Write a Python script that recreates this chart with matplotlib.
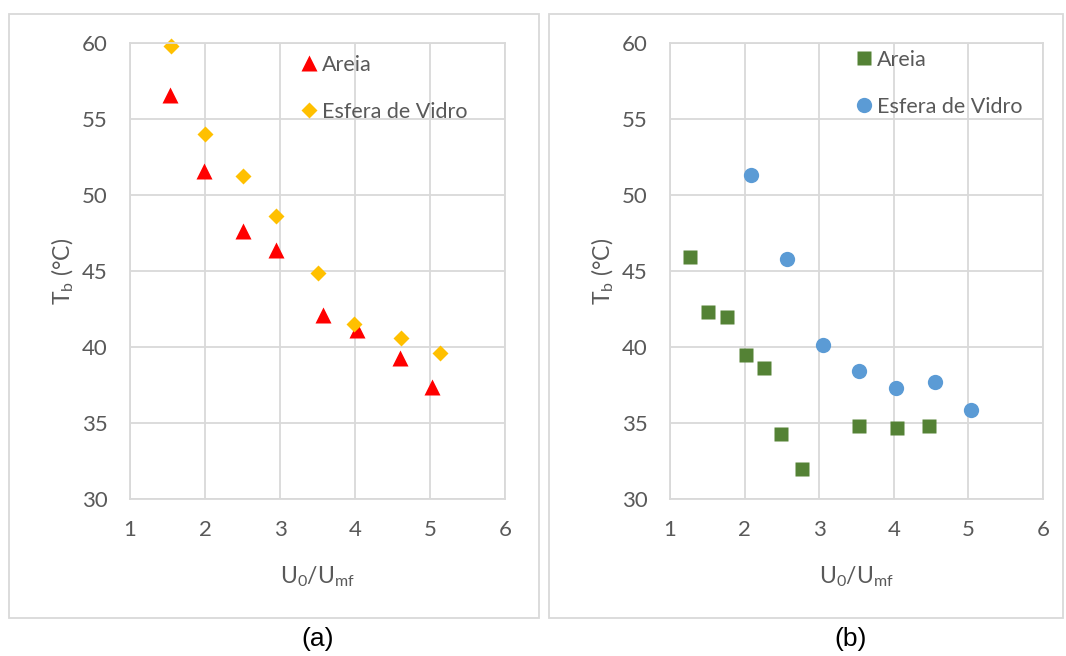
import matplotlib
matplotlib.use("Agg")
import matplotlib.pyplot as plt
from matplotlib.patches import Rectangle

# (a) sand vs glass spheres, first run
a_areia_x = [1.53, 1.99, 2.51, 2.95, 3.57, 4.03, 4.60, 5.03]
a_areia_y = [56.6, 51.6, 47.6, 46.4, 42.1, 41.1, 39.3, 37.4]
a_vidro_x = [1.55, 2.00, 2.51, 2.95, 3.51, 3.99, 4.61, 5.13]
a_vidro_y = [59.8, 54.0, 51.25, 48.6, 44.9, 41.5, 40.6, 39.6]

# (b) sand vs glass spheres, second run
b_areia_x = [1.27, 1.51, 1.76, 2.02, 2.26, 2.49, 2.77, 3.53, 4.04, 4.47]
b_areia_y = [45.9, 42.3, 42.0, 39.5, 38.6, 34.3, 32.0, 34.8, 34.7, 34.8]
b_vidro_x = [2.09, 2.57, 3.05, 3.53, 4.03, 4.55, 5.03]
b_vidro_y = [51.3, 45.8, 40.1, 38.4, 37.3, 37.7, 35.85]

x_ticks = [1, 2, 3, 4, 5, 6]
y_ticks = [30, 35, 40, 45, 50, 55, 60]

TEXT = "#595959"
GRID = "#D9D9D9"

plt.rcParams["font.family"] = ["Lato", "DejaVu Sans"]
plt.rcParams["mathtext.default"] = "regular"

W, H = 1066, 656
fig = plt.figure(figsize=(W / 100, H / 100), dpi=100)


def px_axes(left, right, top, bottom):
    return fig.add_axes([left / W, 1 - bottom / H, (right - left) / W, (bottom - top) / H])


def style(ax):
    ax.set_xlim(1, 6)
    ax.set_ylim(30, 60)
    ax.set_xticks(x_ticks)
    ax.set_yticks(y_ticks)
    ax.grid(True, color=GRID, lw=1.3)
    ax.set_axisbelow(True)
    for s in ax.spines.values():
        s.set_color(GRID)
        s.set_linewidth(1.3)
    ax.tick_params(axis="y", length=0, labelsize=16, labelcolor=TEXT, pad=16)
    ax.tick_params(axis="x", length=0, labelsize=16, labelcolor=TEXT, pad=15)
    ax.set_xlabel("U$_0$/U$_{mf}$", fontsize=16.5, color=TEXT, labelpad=18)
    ax.set_ylabel("T$_b$ (°C)", fontsize=16.5, color=TEXT, labelpad=4)


def legend(ax, x, y):
    leg = ax.legend(loc="upper left", bbox_to_anchor=(x, y), frameon=False,
                    fontsize=15.5, handlelength=0.6, handletextpad=0.3,
                    labelspacing=1.25, borderpad=0, borderaxespad=0)
    for t in leg.get_texts():
        t.set_color(TEXT)


# panel frames
fig.patches.append(Rectangle((9 / W, 1 - 618 / H), 530 / W, 604 / H,
                             transform=fig.transFigure, fill=False, ec=GRID, lw=1.3))
fig.patches.append(Rectangle((549 / W, 1 - 618 / H), 514 / W, 604 / H,
                             transform=fig.transFigure, fill=False, ec=GRID, lw=1.3))

ax1 = px_axes(130, 505, 43, 499)
style(ax1)
ax1.plot(a_areia_x, a_areia_y, "^", color="#FF0000", ms=11, mec="none", label="Areia", clip_on=False)
ax1.plot(a_vidro_x, a_vidro_y, "D", color="#FFC000", ms=8.5, mec="none", label="Esfera de Vidro", clip_on=False)
legend(ax1, 0.46, 0.974)

ax2 = px_axes(670, 1043, 43, 499)
style(ax2)
ax2.plot(b_areia_x, b_areia_y, "s", color="#548235", ms=10.5, mec="none", label="Areia")
ax2.plot(b_vidro_x, b_vidro_y, "o", color="#5B9BD5", ms=11, mec="none", label="Esfera de Vidro")
legend(ax2, 0.504, 0.985)

fig.text(318 / W, 1 - 639 / H, "(a)", ha="center", va="center", fontsize=19,
         family=["Liberation Sans"], color="black")
fig.text(851 / W, 1 - 639 / H, "(b)", ha="center", va="center", fontsize=19,
         family=["Liberation Sans"], color="black")

fig.savefig("out.png", dpi=100)
